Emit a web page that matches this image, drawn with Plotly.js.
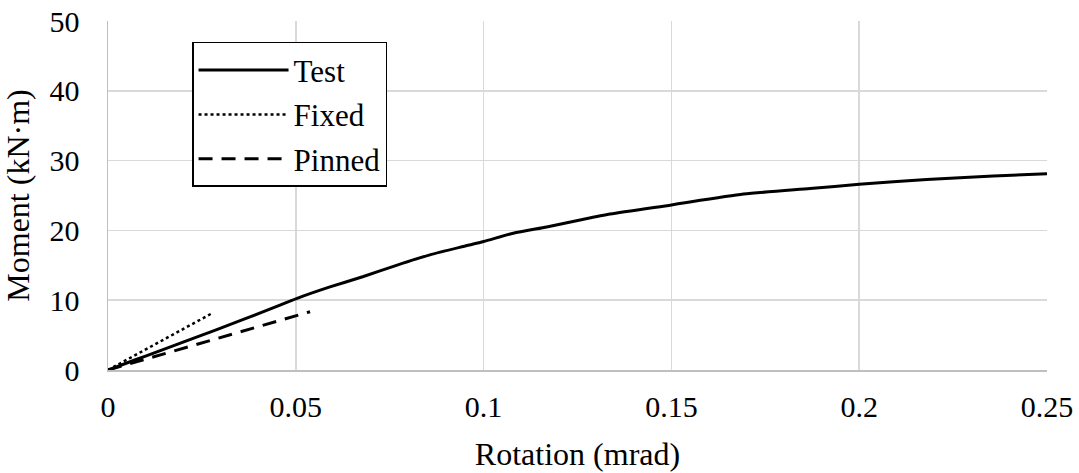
<!DOCTYPE html>
<html>
<head>
<meta charset="utf-8">
<script src="https://cdn.plot.ly/plotly-3.0.1.min.js"></script>
<style>
html,body{margin:0;padding:0;background:#fff;}
#chart svg text, #chart .main-svg text { font-family: 'Liberation Serif', 'Times New Roman', Tinos, serif !important; }
</style>
</head>
<body>
<div id="chart"></div>
<script>
// Test curve
const testRotation = [0, 0.005, 0.01, 0.015, 0.02, 0.025, 0.03, 0.0378, 0.0458, 0.05, 0.0591, 0.068, 0.0768, 0.0857, 0.0946, 0.1, 0.1079, 0.1168, 0.1257, 0.1337, 0.15, 0.1692, 0.1869, 0.2, 0.218, 0.2357, 0.25];
const testMoment   = [0, 1.0, 2.0, 3.0, 4.0, 5.0, 6.0, 7.6, 9.3, 10.2, 11.9, 13.4, 15.0, 16.5, 17.7, 18.4, 19.6, 20.5, 21.5, 22.35, 23.65, 25.2, 26.0, 26.6, 27.3, 27.8, 28.1];
// Fixed model
const fixedRotation = [0, 0.0276];
const fixedMoment   = [0, 8.1];
// Pinned model
const pinnedRotation = [0, 0.0538];
const pinnedMoment   = [0, 8.35];

const xTickVals = [0, 0.05, 0.1, 0.15, 0.2, 0.25];
const xTickText = ['0', '0.05', '0.1', '0.15', '0.2', '0.25'];
const yTickVals = [0, 10, 20, 30, 40, 50];

const FONT = 'Liberation Serif';

const traces = [
  {x: testRotation, y: testMoment, name: 'Test', legendgroup: 'a', mode: 'lines', line: {color: '#000', width: 3, shape: 'spline', smoothing: 0.6}},
  {x: fixedRotation, y: fixedMoment, name: 'Fixed', legendgroup: 'b', mode: 'lines', line: {color: '#000', width: 2.5, dash: 'dot'}},
  {x: pinnedRotation, y: pinnedMoment, name: 'Pinned', legendgroup: 'c', mode: 'lines', line: {color: '#000', width: 3, dash: '14px,9px'}}
];

const layout = {
  width: 1079, height: 473,
  margin: {l: 108, r: 32, t: 21, b: 103},
  paper_bgcolor: '#fff', plot_bgcolor: '#fff',
  font: {family: FONT, size: 30, color: '#000'},
  showlegend: true,
  legend: {
    x: 0.0895, y: 0.94, xanchor: 'left', yanchor: 'top',
    bgcolor: '#fff', bordercolor: '#000', borderwidth: 1.5,
    font: {family: FONT, size: 31, color: '#000'},
    itemwidth: 90, tracegroupgap: 1
  },
  xaxis: {
    range: [0, 0.25], tickvals: xTickVals, ticktext: xTickText,
    showgrid: true, gridcolor: '#d9d9d9', gridwidth: 1.5,
    zeroline: false, showline: true, linecolor: '#bfbfbf', linewidth: 1.5,
    ticks: 'outside', ticklen: 9, tickcolor: 'rgba(0,0,0,0)',
    tickfont: {family: FONT, size: 30, color: '#000'},
    title: {text: 'Rotation (mrad)', font: {family: FONT, size: 32, color: '#000'}, standoff: 21},
    automargin: false
  },
  yaxis: {
    range: [0, 50], tickvals: yTickVals,
    showgrid: true, gridcolor: '#d9d9d9', gridwidth: 1.5,
    zeroline: false, showline: true, linecolor: '#bfbfbf', linewidth: 1.5,
    ticks: 'outside', ticklen: 21, tickcolor: 'rgba(0,0,0,0)',
    tickfont: {family: FONT, size: 30, color: '#000'},
    title: {text: 'Moment (kN·m)', font: {family: FONT, size: 32, color: '#000'}, standoff: 11},
    automargin: false
  }
};

Plotly.newPlot('chart', traces, layout, {displayModeBar: false, staticPlot: true});
</script>
</body>
</html>
